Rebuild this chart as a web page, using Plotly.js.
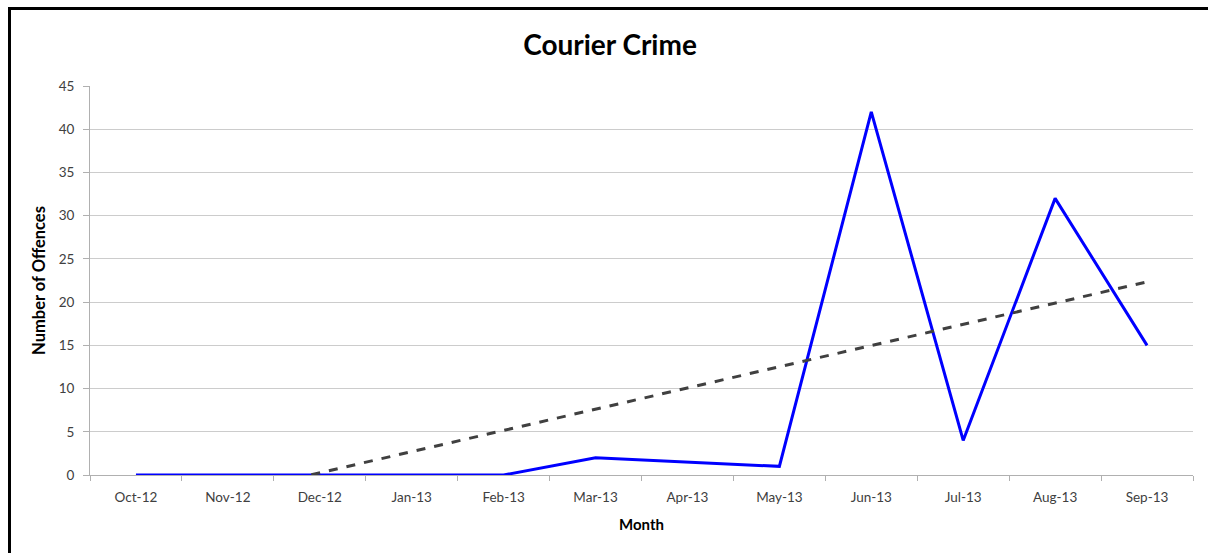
<!DOCTYPE html>
<html>
<head>
<meta charset="utf-8">
<script src="https://cdn.plot.ly/plotly-3.0.1.min.js"></script>
<style>
  html, body { margin: 0; padding: 0; background: #fff; }
  #wrap { position: relative; width: 1208px; height: 553px; overflow: hidden; }
  #chart { width: 1208px; height: 553px; }
  #frame { position: absolute; left: 8px; top: 7px; width: 1210px; height: 560px;
           border: 3px solid #000; box-shadow: 1px 1px 0 #999; pointer-events: none; }
</style>
</head>
<body>
<div id="wrap">
  <div id="chart"></div>
  <div id="frame"></div>
</div>
<script>
const months = ["Oct-12","Nov-12","Dec-12","Jan-13","Feb-13","Mar-13","Apr-13","May-13","Jun-13","Jul-13","Aug-13","Sep-13"];
const offences = [0, 0, 0, 0, 0, 2, null, 1, 42, 4, 32, 15];
const yTicks = [0, 5, 10, 15, 20, 25, 30, 35, 40, 45];

// Linear trendline (least squares over the months that have data)
const pts = [];
offences.forEach((v, i) => { if (v !== null) pts.push([i + 1, v]); });
const n = pts.length;
const mx = pts.reduce((s, p) => s + p[0], 0) / n;
const my = pts.reduce((s, p) => s + p[1], 0) / n;
let sxy = 0, sxx = 0;
pts.forEach(p => { sxy += (p[0] - mx) * (p[1] - my); sxx += (p[0] - mx) * (p[0] - mx); });
const slope = sxy / sxx;
const intercept = my - slope * mx;
const trend = months.map((m, i) => intercept + slope * (i + 1));

const font = "Lato, 'Open Sans', 'Liberation Sans', sans-serif";

const traces = [
  {
    x: months, y: offences, type: "scatter", mode: "lines", connectgaps: true,
    line: { color: "#0000ff", width: 3 }, hoverinfo: "x+y", name: "Offences"
  },
  {
    x: months, y: trend, type: "scatter", mode: "lines",
    line: { color: "#404040", width: 3, dash: "dash" }, name: "Linear trend"
  }
];

const layout = {
  width: 1208, height: 553,
  margin: { l: 90, r: 15, t: 86, b: 78 },
  paper_bgcolor: "#fff", plot_bgcolor: "#fff",
  showlegend: false,
  font: { family: font, color: "#404040", size: 13 },
  title: {
    text: "<b>Courier Crime</b>",
    font: { family: font, size: 28, color: "#000" },
    x: 0.505, xanchor: "center", xref: "container",
    y: 0.918, yanchor: "middle", yref: "container"
  },
  xaxis: {
    type: "category",
    range: [-0.5, 11.5],
    showgrid: false, zeroline: false,
    showline: true, linecolor: "#b0b0b0", linewidth: 1,
    ticks: "outside", tickson: "boundaries", ticklen: 5, tickcolor: "#b0b0b0",
    ticklabelstandoff: 10,
    tickfont: { family: font, size: 13.5, color: "#404040" },
    title: { text: "<b>Month</b>", font: { family: font, size: 15, color: "#000" }, standoff: 15 },
    fixedrange: true
  },
  yaxis: {
    range: [0, 45],
    tickvals: yTicks, ticktext: yTicks.map(String),
    showgrid: true, gridcolor: "#cccccc", gridwidth: 1,
    zeroline: false,
    showline: true, linecolor: "#b0b0b0", linewidth: 1,
    ticks: "outside", ticklen: 6, tickcolor: "#b0b0b0",
    ticklabelstandoff: 6,
    tickfont: { family: font, size: 13.5, color: "#404040" },
    title: { text: "<b>Number of Offences</b>", font: { family: font, size: 16.5, color: "#000" }, standoff: 8 },
    fixedrange: true
  }
};

Plotly.newPlot("chart", traces, layout, { displayModeBar: false, staticPlot: true });
</script>
</body>
</html>
